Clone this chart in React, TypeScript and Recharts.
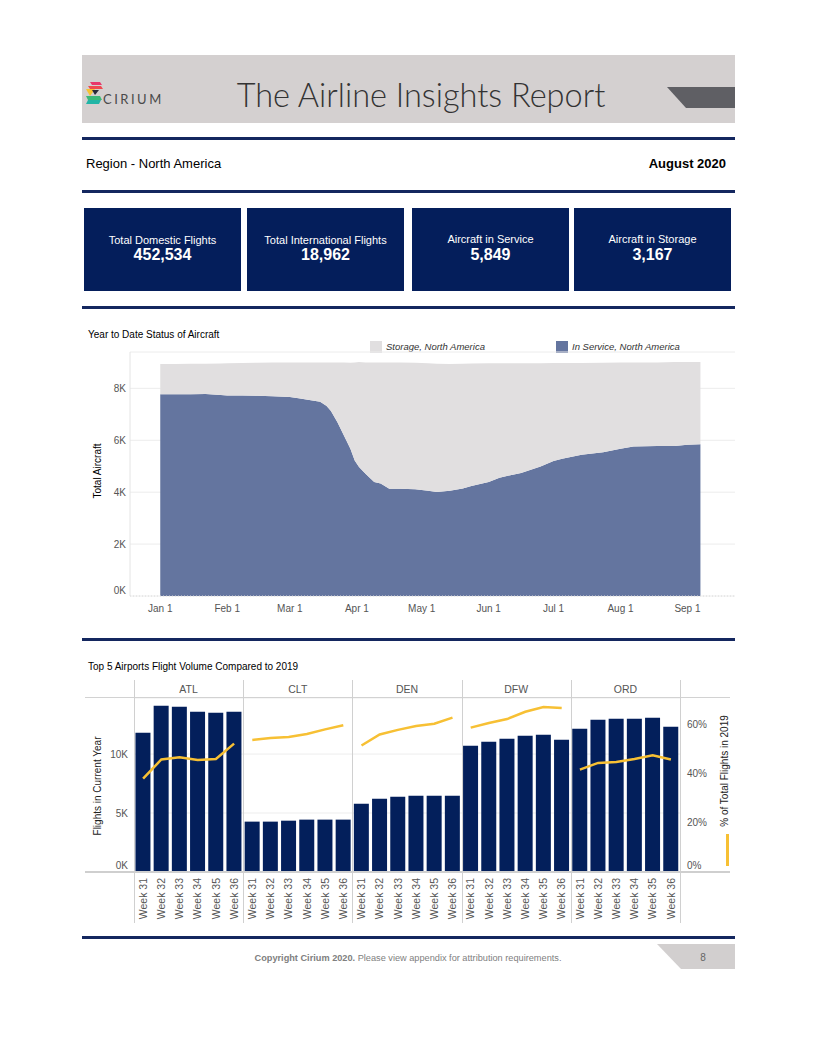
import React from 'react';
import { AreaChart, Area, XAxis, YAxis, CartesianGrid, ComposedChart, Bar, Line } from 'recharts';

// ---------- data ----------
const kpiLabels = ['Total Domestic Flights', 'Total International Flights', 'Aircraft in Service', 'Aircraft in Storage'];
const kpiValues = ['452,534', '18,962', '5,849', '3,167'];

// day of year 2020 (Jan 1 = 0)
const ytdDays = [0, 7, 14, 21, 28, 31, 38, 45, 52, 60, 64, 69, 74, 77, 79, 82, 85, 88, 90, 92, 95, 99, 102, 106, 111, 118, 124, 128, 134, 140, 144, 152, 157, 167, 176, 182, 186, 195, 205, 213, 219, 230, 238, 244, 250];
const inService = [7770, 7770, 7770, 7780, 7740, 7720, 7720, 7710, 7700, 7670, 7620, 7550, 7480, 7320, 7130, 6690, 6180, 5670, 5220, 4970, 4710, 4390, 4330, 4130, 4130, 4110, 4050, 4010, 4050, 4140, 4240, 4390, 4560, 4740, 4990, 5200, 5290, 5440, 5540, 5670, 5760, 5780, 5780, 5830, 5849];
const storage = [1170, 1170, 1180, 1170, 1220, 1250, 1260, 1280, 1300, 1330, 1380, 1450, 1520, 1680, 1870, 2310, 2820, 3320, 3780, 4040, 4290, 4610, 4670, 4870, 4870, 4880, 4920, 4940, 4890, 4810, 4720, 4580, 4410, 4230, 3980, 3780, 3690, 3540, 3450, 3330, 3240, 3220, 3230, 3180, 3167];
const monthTicks = [0, 31, 60, 91, 121, 152, 182, 213, 244];
const monthLabels = ['Jan 1', 'Feb 1', 'Mar 1', 'Apr 1', 'May 1', 'Jun 1', 'Jul 1', 'Aug 1', 'Sep 1'];
const aircraftTicks = [0, 2000, 4000, 6000, 8000];

const airports = ['ATL', 'CLT', 'DEN', 'DFW', 'ORD'];
const weeks = ['Week 31', 'Week 32', 'Week 33', 'Week 34', 'Week 35', 'Week 36'];
const flightsATL = [11810, 14100, 14010, 13590, 13500, 13590];
const flightsCLT = [4270, 4270, 4350, 4440, 4440, 4440];
const flightsDEN = [5790, 6210, 6380, 6470, 6470, 6470];
const flightsDFW = [10710, 11050, 11300, 11550, 11640, 11210];
const flightsORD = [12150, 12910, 12990, 12990, 13080, 12320];
const pctATL = [38.1, 45.9, 46.8, 45.7, 46.1, 52.4];
const pctCLT = [53.9, 54.7, 55.1, 56.3, 58.2, 59.9];
const pctDEN = [51.6, 56.1, 58.0, 59.6, 60.5, 63.0];
const pctDFW = [58.9, 60.8, 62.4, 65.4, 67.3, 66.9];
const pctORD = [41.8, 44.5, 44.9, 46.1, 47.6, 45.9];
const flightTicks = [0, 5000, 10000];
const pctTicks = [0, 20, 40, 60];

// ---------- derived tables ----------
const ytdRows = ytdDays.map((d, i) => ({ day: d, inService: inService[i], storage: storage[i] }));
const flightsBy = [flightsATL, flightsCLT, flightsDEN, flightsDFW, flightsORD];
const pctBy = [pctATL, pctCLT, pctDEN, pctDFW, pctORD];
const barRows = airports.flatMap((ap, i) =>
  weeks.map((wk, j) => {
    const row: any = { key: `${ap} ${wk}`, week: wk, flights: flightsBy[i][j] };
    airports.forEach((a) => { row[`pct${a}`] = a === ap ? pctBy[i][j] : null; });
    return row;
  })
);

// ---------- styles ----------
const NAVY_LINE = '#14275f';
const BOX = '#041e5b';
const BAR = '#031f5b';
const YELLOW = '#f7c034';
const SERVICE = '#64759f';
const STORE = '#e1dfe0';
const FONT = '"Liberation Sans", Arial, sans-serif';

const hLine = (top: number) => (
  <div style={{ position: 'absolute', left: 82, top, width: 653, height: 3, background: NAVY_LINE }} />
);

const AreaXTick = (p: any) => (
  <text x={p.x} y={268} textAnchor="middle" dominantBaseline="central" fontSize={10} fill="#555" fontFamily={FONT}>
    {monthLabels[monthTicks.indexOf(p.payload.value)]}
  </text>
);
const AreaYTick = (p: any) => (
  <text x={26} y={p.y - (p.payload.value === 0 ? 6 : 0)} textAnchor="end" dominantBaseline="central" fontSize={10} fill="#555" fontFamily={FONT}>
    {`${p.payload.value / 1000}K`}
  </text>
);
const BarLeftTick = (p: any) => (
  <text x={44} y={p.y - (p.payload.value === 0 ? 7 : 0)} textAnchor="end" dominantBaseline="central" fontSize={10} fill="#555" fontFamily={FONT}>
    {`${p.payload.value / 1000}K`}
  </text>
);
const BarRightTick = (p: any) => (
  <text x={603} y={p.y - (p.payload.value === 0 ? 7 : 0)} textAnchor="start" dominantBaseline="central" fontSize={10} fill="#555" fontFamily={FONT}>
    {`${p.payload.value}%`}
  </text>
);
const WeekTick = (p: any) => (
  <text x={p.x} y={198} dy="0.35em" textAnchor="end" transform={`rotate(-90 ${p.x} 198)`} fontSize={10.5} fill="#555" fontFamily={FONT}>
    {String(p.payload.value).slice(4)}
  </text>
);

const panelEdges = [134, 243.2, 352.4, 461.6, 570.8, 680];

export default function App() {
  return (
    <div style={{ position: 'absolute', left: 0, top: 0, width: 816, height: 1056, background: '#fff', fontFamily: FONT, color: '#000', overflow: 'hidden' }}>
      {/* Header band */}
      <div style={{ position: 'absolute', left: 82, top: 55, width: 653, height: 68, background: '#d4d0d0' }} />
      <svg style={{ position: 'absolute', left: 0, top: 0 }} width={816} height={130}>
        <polygon points="667,87 735,87 735,108 686,108" fill="#5f5f64" />
        {/* logo icon */}
        <polygon points="90,82 100,82 102,85 92,85" fill="#e8386b" />
        <polygon points="88,86 101,86 103,89 90,89" fill="#ef4a4f" />
        <polygon points="86,89 95,89 90,96" fill="#f6c232" />
        <polygon points="92,90 99,90 95,95" fill="#2a2a3a" />
        <polygon points="86,96 100,96 102,100 88,100" fill="#3cb878" />
        <polygon points="88,100 101,100 99,104 86,104" fill="#22b5a6" />
      </svg>
      <div style={{ position: 'absolute', left: 103, top: 91, fontFamily: 'Lato, "Open Sans", sans-serif', fontSize: 13, letterSpacing: 2.5, color: '#4a4a4a' }}>CIRIUM</div>
      <div style={{ position: 'absolute', left: 171, top: 75, width: 500, textAlign: 'center', fontFamily: 'Lato, "Open Sans", sans-serif', fontWeight: 300, fontSize: 32.5, color: '#333', whiteSpace: 'nowrap' }}>
        The Airline Insights Report
      </div>

      {hLine(137)}
      <div style={{ position: 'absolute', left: 86, top: 156, fontSize: 13 }}>Region - North America</div>
      <div style={{ position: 'absolute', right: 816 - 726, top: 156, fontSize: 13, fontWeight: 'bold' }}>August 2020</div>
      {hLine(190)}

      {/* KPI boxes */}
      {[84, 247, 412, 574].map((left, i) => (
        <div key={i} style={{ position: 'absolute', left, top: 208, width: 157, height: 83, background: BOX, color: '#fff', textAlign: 'center' }}>
          <div style={{ position: 'absolute', left: 0, right: 0, top: i < 2 ? 26 : 25, fontSize: 11 }}>{kpiLabels[i]}</div>
          <div style={{ position: 'absolute', left: 0, right: 0, top: 38, fontSize: 16, fontWeight: 'bold' }}>{kpiValues[i]}</div>
        </div>
      ))}
      {hLine(306)}

      {/* Area chart */}
      <div style={{ position: 'absolute', left: 88, top: 329, fontSize: 10 }}>Year to Date Status of Aircraft</div>
      <div style={{ position: 'absolute', left: 370, top: 341, width: 12, height: 12, background: STORE }} />
      <div style={{ position: 'absolute', left: 386, top: 341, fontSize: 9.5, fontStyle: 'italic', color: '#333' }}>Storage, North America</div>
      <div style={{ position: 'absolute', left: 556, top: 341, width: 12, height: 12, background: SERVICE }} />
      <div style={{ position: 'absolute', left: 572, top: 341, fontSize: 9.5, fontStyle: 'italic', color: '#333' }}>In Service, North America</div>
      <div style={{ position: 'absolute', left: 97, top: 471, width: 0, height: 0 }}>
        <div style={{ position: 'absolute', transform: 'translate(-50%, -50%) rotate(-90deg)', fontSize: 10, whiteSpace: 'nowrap' }}>Total Aircraft</div>
      </div>
      <div style={{ position: 'absolute', left: 100, top: 340 }}>
        <AreaChart width={640} height={280} data={ytdRows} margin={{ top: 12, right: 5, bottom: 0, left: 0 }}>
          <CartesianGrid vertical={false} stroke="#ececec" />
          <XAxis type="number" dataKey="day" domain={[-14, 266]} ticks={monthTicks} tick={<AreaXTick />} tickLine={false} axisLine={{ stroke: '#dcdcdc', strokeDasharray: '1 2' }} height={24} allowDataOverflow />
          <YAxis domain={[0, 9400]} ticks={aircraftTicks} tick={<AreaYTick />} tickLine={false} axisLine={{ stroke: '#e4e4e4' }} width={30} allowDataOverflow />
          <Area type="linear" dataKey="inService" stackId="1" stroke="none" fill={SERVICE} fillOpacity={1} isAnimationActive={false} />
          <Area type="linear" dataKey="storage" stackId="1" stroke="none" fill={STORE} fillOpacity={1} isAnimationActive={false} />
        </AreaChart>
      </div>

      {hLine(638)}

      {/* Bar chart */}
      <div style={{ position: 'absolute', left: 88, top: 661, fontSize: 10 }}>Top 5 Airports Flight Volume Compared to 2019</div>
      {airports.map((ap, i) => (
        <div key={ap} style={{ position: 'absolute', left: panelEdges[i], width: panelEdges[i + 1] - panelEdges[i], top: 683, textAlign: 'center', fontSize: 10.5, color: '#555' }}>{ap}</div>
      ))}
      <div style={{ position: 'absolute', left: 97, top: 786, width: 0, height: 0 }}>
        <div style={{ position: 'absolute', transform: 'translate(-50%, -50%) rotate(-90deg)', fontSize: 10, whiteSpace: 'nowrap', color: '#222' }}>Flights in Current Year</div>
      </div>
      <div style={{ position: 'absolute', left: 724, top: 771, width: 0, height: 0 }}>
        <div style={{ position: 'absolute', transform: 'translate(-50%, -50%) rotate(-90deg)', fontSize: 10, whiteSpace: 'nowrap', color: '#222' }}>% of Total Flights in 2019</div>
      </div>
      <div style={{ position: 'absolute', left: 726, top: 834, width: 3, height: 32, background: YELLOW }} />
      <div style={{ position: 'absolute', left: 84, top: 680 }}>
        <ComposedChart width={651} height={250} data={barRows} margin={{ top: 18, right: 0, bottom: 0, left: 0 }} barCategoryGap="8%">
          <CartesianGrid vertical={false} stroke="#ededed" yAxisId="left" />
          <XAxis dataKey="key" interval={0} tick={<WeekTick />} tickLine={false} axisLine={false} height={58} />
          <YAxis yAxisId="left" orientation="left" domain={[0, 14750]} ticks={flightTicks} tick={<BarLeftTick />} tickLine={false} axisLine={false} width={50} allowDataOverflow />
          <YAxis yAxisId="right" orientation="right" domain={[0, 71]} ticks={pctTicks} tick={<BarRightTick />} tickLine={false} axisLine={false} width={55} allowDataOverflow />
          <Bar yAxisId="left" dataKey="flights" fill={BAR} isAnimationActive={false} />
          {airports.map((ap) => (
            <Line key={ap} yAxisId="right" type="linear" dataKey={`pct${ap}`} stroke={YELLOW} strokeWidth={2.5} dot={false} activeDot={false} connectNulls={false} isAnimationActive={false} />
          ))}
        </ComposedChart>
      </div>
      <div style={{ position: 'absolute', left: 85, top: 697, width: 645, height: 1, background: '#d2d2d2' }} />
      <div style={{ position: 'absolute', left: 85, top: 871, width: 645, height: 2, background: '#cfcfcf' }} />
      {panelEdges.map((x, i) => (
        <div key={i} style={{ position: 'absolute', left: x, top: 680, width: 1, height: 243, background: '#d0d0d0' }} />
      ))}

      {hLine(936)}

      {/* Footer */}
      <div style={{ position: 'absolute', left: 0, width: 816, top: 953, textAlign: 'center', fontSize: 9.2, color: '#808080' }}>
        <b>Copyright Cirium 2020.</b> Please view appendix for attribution requirements.
      </div>
      <svg style={{ position: 'absolute', left: 0, top: 940 }} width={816} height={40}>
        <polygon points="657,4 735,4 735,29 681,29" fill="#d2cfcf" />
        <text x={703} y={21} textAnchor="middle" fontSize={10} fill="#666" fontFamily={FONT}>8</text>
      </svg>
    </div>
  );
}
